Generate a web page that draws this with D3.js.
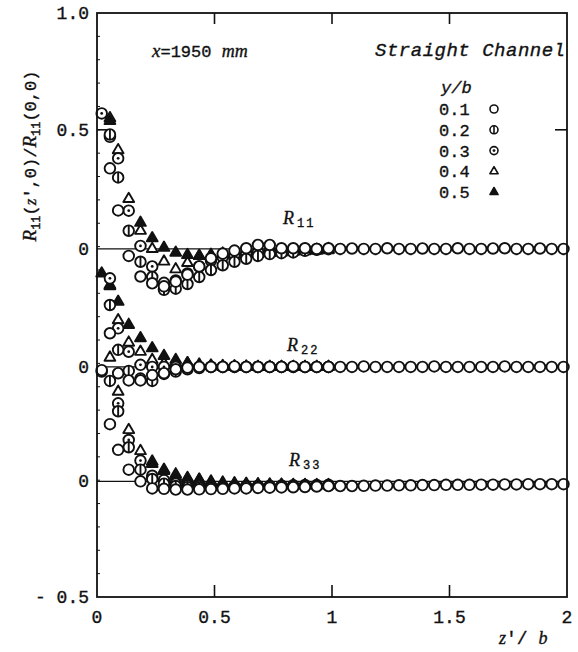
<!DOCTYPE html>
<html>
<head>
<meta charset="utf-8">
<script src="https://cdn.jsdelivr.net/npm/d3@7"></script>
<style>
  body { margin: 0; background: #fff; }
  text { fill: #111; stroke: #111; stroke-width: 0.35px; }
</style>
</head>
<body>
<svg id="chart" width="578" height="652"></svg>
<script>
// separation z'/b shared by every series
const zVals = [0.02, 0.055, 0.09, 0.135, 0.185, 0.235, 0.285, 0.335, 0.385, 0.435,
  0.485, 0.535, 0.585, 0.635, 0.685, 0.735, 0.785, 0.835, 0.885, 0.935,
  0.985, 1.035, 1.085, 1.135, 1.185, 1.235, 1.285, 1.335, 1.385, 1.435,
  1.485, 1.535, 1.585, 1.635, 1.685, 1.735, 1.785, 1.835, 1.885, 1.935, 1.985];

const seriesKeys = ["0.1", "0.2", "0.3", "0.4", "0.5"];
const panelNames = ["11", "22", "33"];

// R11
const r11_01 = [null, 0.345, 0.165, -0.03, -0.118, -0.147, -0.16, -0.14, -0.11, -0.075,
  -0.04, -0.02, -0.007, 0.003, 0.017, 0.017, 0.003, 0.003, 0.003, 0.0,
  0.003, 0.0, 0.002, 0.0, 0.0, 0.003, 0.0, 0.0, 0.002, 0.0,
  0.0, 0.003, 0.0, 0.0, 0.002, 0.003, 0.0, 0.0, 0.002, 0.0, 0.0];
const r11_02 = [null, 0.49, 0.306, 0.078, -0.055, -0.12, -0.175, -0.17, -0.15, -0.12,
  -0.09, -0.07, -0.055, -0.042, -0.03, -0.022, -0.018, -0.015, -0.008, -0.004, 0.0];
const r11_03 = [0.58, 0.48, 0.388, 0.164, 0.013, -0.075, -0.145, -0.135, -0.105, -0.075,
  -0.05, -0.035, -0.025, -0.018, -0.012, -0.008, -0.004, 0.0, 0.0, 0.0, 0.0];
const r11_04 = [null, 0.56, 0.423, 0.214, 0.078, 0.0, -0.054, -0.087, -0.06, -0.03,
  -0.025, -0.02, -0.016, -0.014, -0.012, -0.01, -0.008, -0.006, -0.005, -0.003, 0.0];
const r11_05 = [null, 0.548, null, null, 0.112, 0.046, 0.005, -0.016, -0.026, -0.03,
  -0.03, -0.028, -0.025, -0.022, -0.02, -0.018, -0.015, -0.012, -0.01, -0.008, -0.005];

// R22
const r22_01 = [null, 0.144, -0.027, -0.058, -0.058, -0.035, -0.027, -0.01, -0.003, 0.0,
  0.0, 0.0, 0.002, 0.0, 0.0, 0.0, 0.0, 0.002, 0.0, 0.0,
  0.0, 0.0, 0.0, 0.002, 0.0, 0.0, 0.0, 0.0, 0.0, 0.002,
  0.0, 0.0, 0.0, 0.0, 0.0, 0.002, 0.0, 0.0, 0.0, 0.0, 0.0];
const r22_02 = [null, 0.265, 0.073, -0.017, -0.05, -0.06, -0.03, -0.02, -0.01, -0.005,
  0.0, 0.0, 0.0, 0.0, 0.0, 0.0, 0.0, 0.0, 0.0, 0.0, 0.0];
const r22_03 = [null, 0.379, 0.165, 0.065, 0.009, 0.0, 0.0, 0.0, 0.0, 0.0,
  0.0, 0.0, 0.0, 0.0, 0.0, 0.0, 0.0, 0.0, 0.0, 0.0, 0.0];
const r22_04 = [null, 0.346, 0.2, 0.104, 0.065, 0.03, 0.015, 0.01, 0.016, 0.005,
  0.003, 0.0, 0.0, 0.0, 0.0, 0.0, 0.0, 0.0, 0.0, 0.0, 0.0];
const r22_05 = [0.4, 0.35, 0.279, 0.18, 0.123, 0.08, 0.047, 0.03, 0.016, 0.01,
  0.006, 0.004, 0.003, 0.002, 0.0, 0.0, 0.0, 0.0, 0.0, 0.0, 0.0];

// R33
const r33_01 = [0.476, 0.245, 0.135, 0.05, 0.0, -0.03, -0.032, -0.035, -0.035, -0.034,
  -0.033, -0.032, -0.03, -0.03, -0.028, -0.027, -0.026, -0.025, -0.024, -0.022,
  -0.02, -0.02, -0.02, -0.019, -0.018, -0.018, -0.017, -0.017, -0.016, -0.016,
  -0.015, -0.015, -0.015, -0.014, -0.014, -0.013, -0.013, -0.012, -0.012, -0.012, -0.012];
const r33_02 = [0.47, 0.43, 0.3, 0.146, 0.05, 0.01, -0.01, -0.02, -0.025, -0.027,
  -0.027, -0.026, -0.025, -0.024, -0.023, -0.022, -0.021, -0.02, -0.02, -0.019, -0.018];
const r33_03 = [null, null, 0.334, 0.177, 0.089, 0.024, 0.005, -0.01, -0.018, -0.02,
  -0.022, -0.022, -0.021, -0.02, -0.02, -0.019, -0.018, -0.017, -0.016, -0.016, -0.015];
const r33_04 = [null, 0.53, 0.384, 0.22, 0.13, 0.085, 0.05, 0.03, 0.015, 0.008,
  -0.005, -0.01, -0.012, -0.014, -0.015, -0.016, -0.016, -0.017, -0.017, -0.017, -0.017];
const r33_05 = [null, null, null, null, null, 0.075, 0.045, 0.02, 0.01, 0.005,
  0.0, -0.005, -0.008, -0.01, -0.012, -0.013, -0.014, -0.015, -0.015, -0.016, -0.016];

const panelData = [
  [r11_01, r11_02, r11_03, r11_04, r11_05],
  [r22_01, r22_02, r22_03, r22_04, r22_05],
  [r33_01, r33_02, r33_03, r33_04, r33_05]
];

const xTicks = [0, 0.5, 1, 1.5, 2];
const xTickLabels = ["0", "0.5", "1", "1.5", "2"];

// layout
const plotL = 97, plotR = 567, plotT = 13, plotB = 597;
const panelOffset = [-0.01, -0.515, -1.005];
const markerTypes = ["circle", "cross", "dot", "tri", "ftri"];
const drawOrder = [3, 4, 2, 1, 0];
const mono = "'Liberation Mono', 'DejaVu Sans Mono', monospace";
const serif = "'Liberation Serif', 'DejaVu Serif', serif";

const svg = d3.select("#chart");
const x = d3.scaleLinear().domain([0, 2]).range([plotL, plotR]);
const y = d3.scaleLinear().domain([-1.5, 1.0]).range([plotB, plotT]);

const yTickVals = [1.0, 0.5, panelOffset[0], panelOffset[1], panelOffset[2], -1.5];
const yTickLabels = ["1.0", "0.5", "0", "0", "0", "- 0.5"];

function marker(g, type, cx, cy, r, sw) {
  if (type === "tri" || type === "ftri") {
    g.append("path")
      .attr("d", d3.symbol().type(d3.symbolTriangle).size(r * r * 1.8)())
      .attr("transform", `translate(${cx},${cy})`)
      .attr("fill", type === "ftri" ? "#111" : "#fff")
      .attr("stroke", "#111")
      .attr("stroke-width", sw)
      .attr("stroke-linejoin", "round");
    return;
  }
  g.append("circle")
    .attr("cx", cx).attr("cy", cy).attr("r", r)
    .attr("fill", "#fff").attr("stroke", "#111").attr("stroke-width", sw);
  if (type === "cross") {
    g.append("line")
      .attr("x1", cx).attr("x2", cx)
      .attr("y1", cy - r).attr("y2", cy + r)
      .attr("stroke", "#111").attr("stroke-width", sw);
  }
  if (type === "dot") {
    g.append("circle")
      .attr("cx", cx).attr("cy", cy).attr("r", 1.4)
      .attr("fill", "#111");
  }
}

// zero lines of the three panels
svg.append("g")
  .selectAll("line")
  .data(panelOffset)
  .join("line")
  .attr("x1", plotL).attr("x2", plotR)
  .attr("y1", d => y(d)).attr("y2", d => y(d))
  .attr("stroke", "#111").attr("stroke-width", 1.3);

// points
const pts = svg.append("g");
panelData.forEach((series, p) => {
  drawOrder.forEach(s => {
    series[s].forEach((v, i) => {
      if (v === null) return;
      marker(pts, markerTypes[s], x(zVals[i]), y(panelOffset[p] + v), 5.3, 1.9);
    });
  });
});

// frame
svg.append("rect")
  .attr("x", plotL).attr("y", plotT)
  .attr("width", plotR - plotL).attr("height", plotB - plotT)
  .attr("fill", "none").attr("stroke", "#111").attr("stroke-width", 1.8);

// x ticks, top and bottom, pointing inward
const tk = svg.append("g").attr("stroke", "#111").attr("stroke-width", 1.6);
xTicks.slice(1, -1).forEach(t => {
  tk.append("line").attr("x1", x(t)).attr("x2", x(t)).attr("y1", plotB).attr("y2", plotB - 12);
  tk.append("line").attr("x1", x(t)).attr("x2", x(t)).attr("y1", plotT).attr("y2", plotT + 11);
});
// y ticks at 0.5
tk.append("line").attr("x1", plotL).attr("x2", plotL + 10).attr("y1", y(0.5)).attr("y2", y(0.5));
tk.append("line").attr("x1", plotR).attr("x2", plotR - 12).attr("y1", y(0.5)).attr("y2", y(0.5));
// small inward ticks every 0.1
d3.range(-14, 10).forEach(k => {
  const v = k / 10;
  tk.append("line").attr("x1", plotL).attr("x2", plotL + 3)
    .attr("y1", y(v)).attr("y2", y(v)).attr("stroke-width", 1);
});

// tick labels
svg.append("g")
  .selectAll("text")
  .data(xTicks)
  .join("text")
  .attr("x", d => x(d)).attr("y", 623)
  .attr("text-anchor", "middle")
  .attr("font-family", mono).attr("font-size", 18)
  .text((d, i) => xTickLabels[i]);

svg.append("g")
  .selectAll("text")
  .data(yTickVals)
  .join("text")
  .attr("x", 89).attr("y", d => y(d) + 6)
  .attr("text-anchor", "end")
  .attr("font-family", mono).attr("font-size", 18)
  .text((d, i) => yTickLabels[i]);

// axis titles
const xt = svg.append("text")
  .attr("x", 499).attr("y", 644)
  .attr("font-family", mono).attr("font-size", 18);
xt.append("tspan").attr("font-family", serif).attr("font-style", "italic").text("z");
xt.append("tspan").text("'/ ");
xt.append("tspan").attr("font-family", serif).attr("font-style", "italic").text("b");

const yt = svg.append("text")
  .attr("transform", "translate(36,156) rotate(-90)")
  .attr("text-anchor", "middle")
  .attr("font-family", mono).attr("font-size", 17);
yt.append("tspan").attr("font-family", serif).attr("font-style", "italic").attr("font-size", 19).text("R");
yt.append("tspan").attr("font-size", 12).attr("dy", 4).text("11");
yt.append("tspan").attr("dy", -4).text("(");
yt.append("tspan").attr("font-family", serif).attr("font-style", "italic").text("z");
yt.append("tspan").text("',0)/");
yt.append("tspan").attr("font-family", serif).attr("font-style", "italic").attr("font-size", 19).text("R");
yt.append("tspan").attr("font-size", 12).attr("dy", 4).text("11");
yt.append("tspan").attr("dy", -4).text("(0,0)");

// panel labels
const labelPos = [[283, 224], [287, 351], [289, 466]];
panelNames.forEach((n, i) => {
  const t = svg.append("text")
    .attr("x", labelPos[i][0]).attr("y", labelPos[i][1])
    .attr("font-family", serif).attr("font-size", 18);
  t.append("tspan").attr("font-style", "italic").text("R");
  t.append("tspan").attr("font-family", mono).attr("font-size", 12)
    .attr("dx", 3).attr("dy", 3).attr("letter-spacing", 2).text(n);
});

// annotations
const ann = svg.append("text")
  .attr("x", 152).attr("y", 57)
  .attr("font-family", mono).attr("font-size", 17);
ann.append("tspan").attr("font-family", serif).attr("font-style", "italic").attr("font-size", 19).text("x");
ann.append("tspan").text("=1950 ");
ann.append("tspan").attr("font-family", serif).attr("font-style", "italic").attr("font-size", 18).text("mm");

svg.append("text")
  .attr("x", 375).attr("y", 56)
  .attr("font-family", mono).attr("font-style", "italic").attr("font-size", 19)
  .attr("textLength", 190).attr("lengthAdjust", "spacing")
  .text("Straight Channel");

// legend
const lg = svg.append("g");
lg.append("text")
  .attr("x", 441).attr("y", 93)
  .attr("font-family", mono).attr("font-style", "italic").attr("font-size", 17)
  .text("y/b");
seriesKeys.forEach((k, i) => {
  const ly = 109 + i * 20.8;
  lg.append("text")
    .attr("x", 439).attr("y", ly + 6)
    .attr("font-family", mono).attr("font-size", 17)
    .text(k);
  marker(lg, markerTypes[i], 494, ly, 4, 1.6);
});
</script>
</body>
</html>
